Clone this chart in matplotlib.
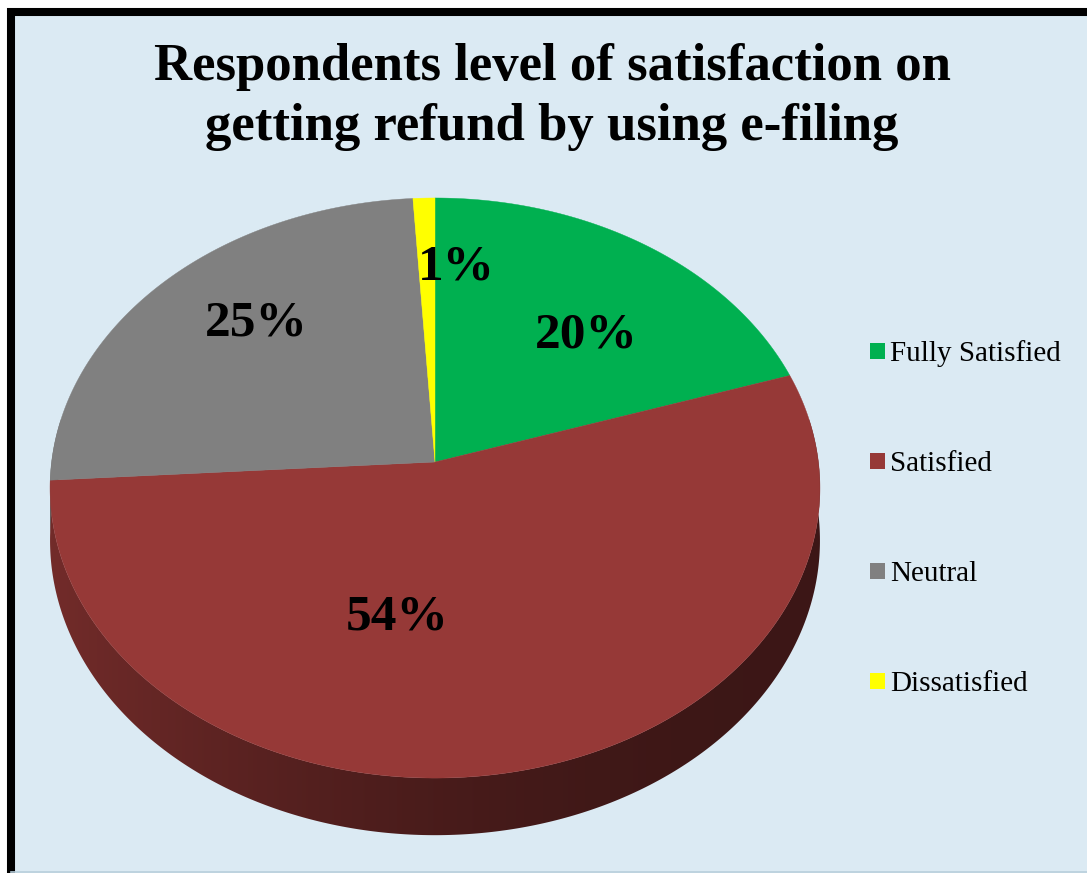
import matplotlib
matplotlib.use('Agg')
import matplotlib.pyplot as plt
import numpy as np
from matplotlib.patches import Patch, Polygon, Rectangle

plt.rcParams['font.family'] = ['Liberation Serif', 'DejaVu Serif']

TITLE_LINES = ['Respondents level of satisfaction on', 'getting refund by using e-filing']
CATEGORIES = ['Fully Satisfied', 'Satisfied', 'Neutral', 'Dissatisfied']
PERCENTS = [20, 54, 25, 1]
COLORS = ['#00b050', '#963937', '#808080', '#ffff00']

BACKGROUND = '#dbeaf3'

# pie geometry in pixel space (perspective-tilted disc)
CX, CY = 435.0, 462.0
SX, SY = 383.4, 287.7
K = 0.0897
DEPTH = 52.0

# label anchors (text centre x, baseline y)
LABEL_ANCHORS = [(586, 347), (397, 630), (256, 335), (456, 279)]


def project(theta, r=1.0, drop=0.0):
  """Map an angle (clockwise from 12 o'clock) on the disc to pixel coords."""
  u = r * np.sin(theta)
  v = r * np.cos(theta)
  w = 1.0 + K * v
  return CX + SX * u / w, CY - SY * v / w + drop / w


def side_gradient(color, xs):
  """Darken a colour left-to-right for the rim of the disc."""
  rgb = np.array(matplotlib.colors.to_rgb(color))
  s = np.clip((xs - (CX - SX)) / (2 * SX), 0, 1)
  factor = 0.40 + 0.36 * (1 - s) ** 2
  return factor[:, None] * rgb[None, :]


fig = plt.figure(figsize=(10.87, 8.73), dpi=100, facecolor='white')
ax = fig.add_axes([0, 0, 1, 1])
ax.set_xlim(0, 1087)
ax.set_ylim(873, 0)
ax.axis('off')

# chart area with heavy black frame
ax.add_patch(Rectangle((11, 12), 1200, 1000, facecolor=BACKGROUND,
                       edgecolor='black', linewidth=5.8, zorder=0))
ax.plot([11, 1087], [871.5, 871.5], color='#b9cfdc', lw=1.2, zorder=1)

fractions = np.array(PERCENTS, dtype=float) / np.sum(PERCENTS)
edges = np.concatenate([[0.0], np.cumsum(fractions)]) * 2 * np.pi

# side wall along the visible front rim, shaded with a horizontal gradient
grad_x = np.linspace(CX - SX - 5, CX + SX + 5, 400)
for i, color in enumerate(COLORS):
  t0 = max(edges[i], np.pi / 2 - 0.15)
  t1 = min(edges[i + 1], 3 * np.pi / 2 + 0.15)
  if t1 <= t0:
    continue
  ts = np.linspace(t0, t1, 300)
  xt, yt = project(ts)
  xb, yb = project(ts[::-1], drop=DEPTH)
  rim = Polygon(np.column_stack([np.concatenate([xt, xb]), np.concatenate([yt, yb])]),
                closed=True, facecolor='none', edgecolor='none')
  ax.add_patch(rim)
  img = side_gradient(color, grad_x)[None, :, :]
  im = ax.imshow(img, extent=(grad_x[0], grad_x[-1], 880, 150), aspect='auto',
                 interpolation='bilinear', zorder=2)
  im.set_clip_path(rim)

# top face wedges
for i, color in enumerate(COLORS):
  ts = np.linspace(edges[i], edges[i + 1], max(3, int((edges[i + 1] - edges[i]) / 0.005)))
  xs, ys = project(ts)
  xs = np.concatenate([[CX], xs])
  ys = np.concatenate([[CY], ys])
  ax.fill(xs, ys, color=color, lw=0.3, zorder=3)

for pct, (lx, ly) in zip(PERCENTS, LABEL_ANCHORS):
  ax.text(lx, ly, f'{pct}%', ha='center', va='baseline', fontsize=37,
          fontweight='bold', color='black', zorder=5)

ax.text(552, 80, TITLE_LINES[0], ha='center', va='baseline', fontsize=38, fontweight='bold')
ax.text(552, 140, TITLE_LINES[1], ha='center', va='baseline', fontsize=38, fontweight='bold')

handles = [Patch(facecolor=c, edgecolor='none') for c in COLORS]
ax.legend(handles, CATEGORIES, loc='center left', bbox_to_anchor=(870, 519),
          bbox_transform=ax.transData, frameon=False, fontsize=21,
          handlelength=0.5, handleheight=0.5, handletextpad=0.2,
          labelspacing=2.88, borderpad=0, borderaxespad=0)

ax.set_xlim(0, 1087)
ax.set_ylim(873, 0)

fig.savefig('out.png', dpi=100, facecolor='white')
